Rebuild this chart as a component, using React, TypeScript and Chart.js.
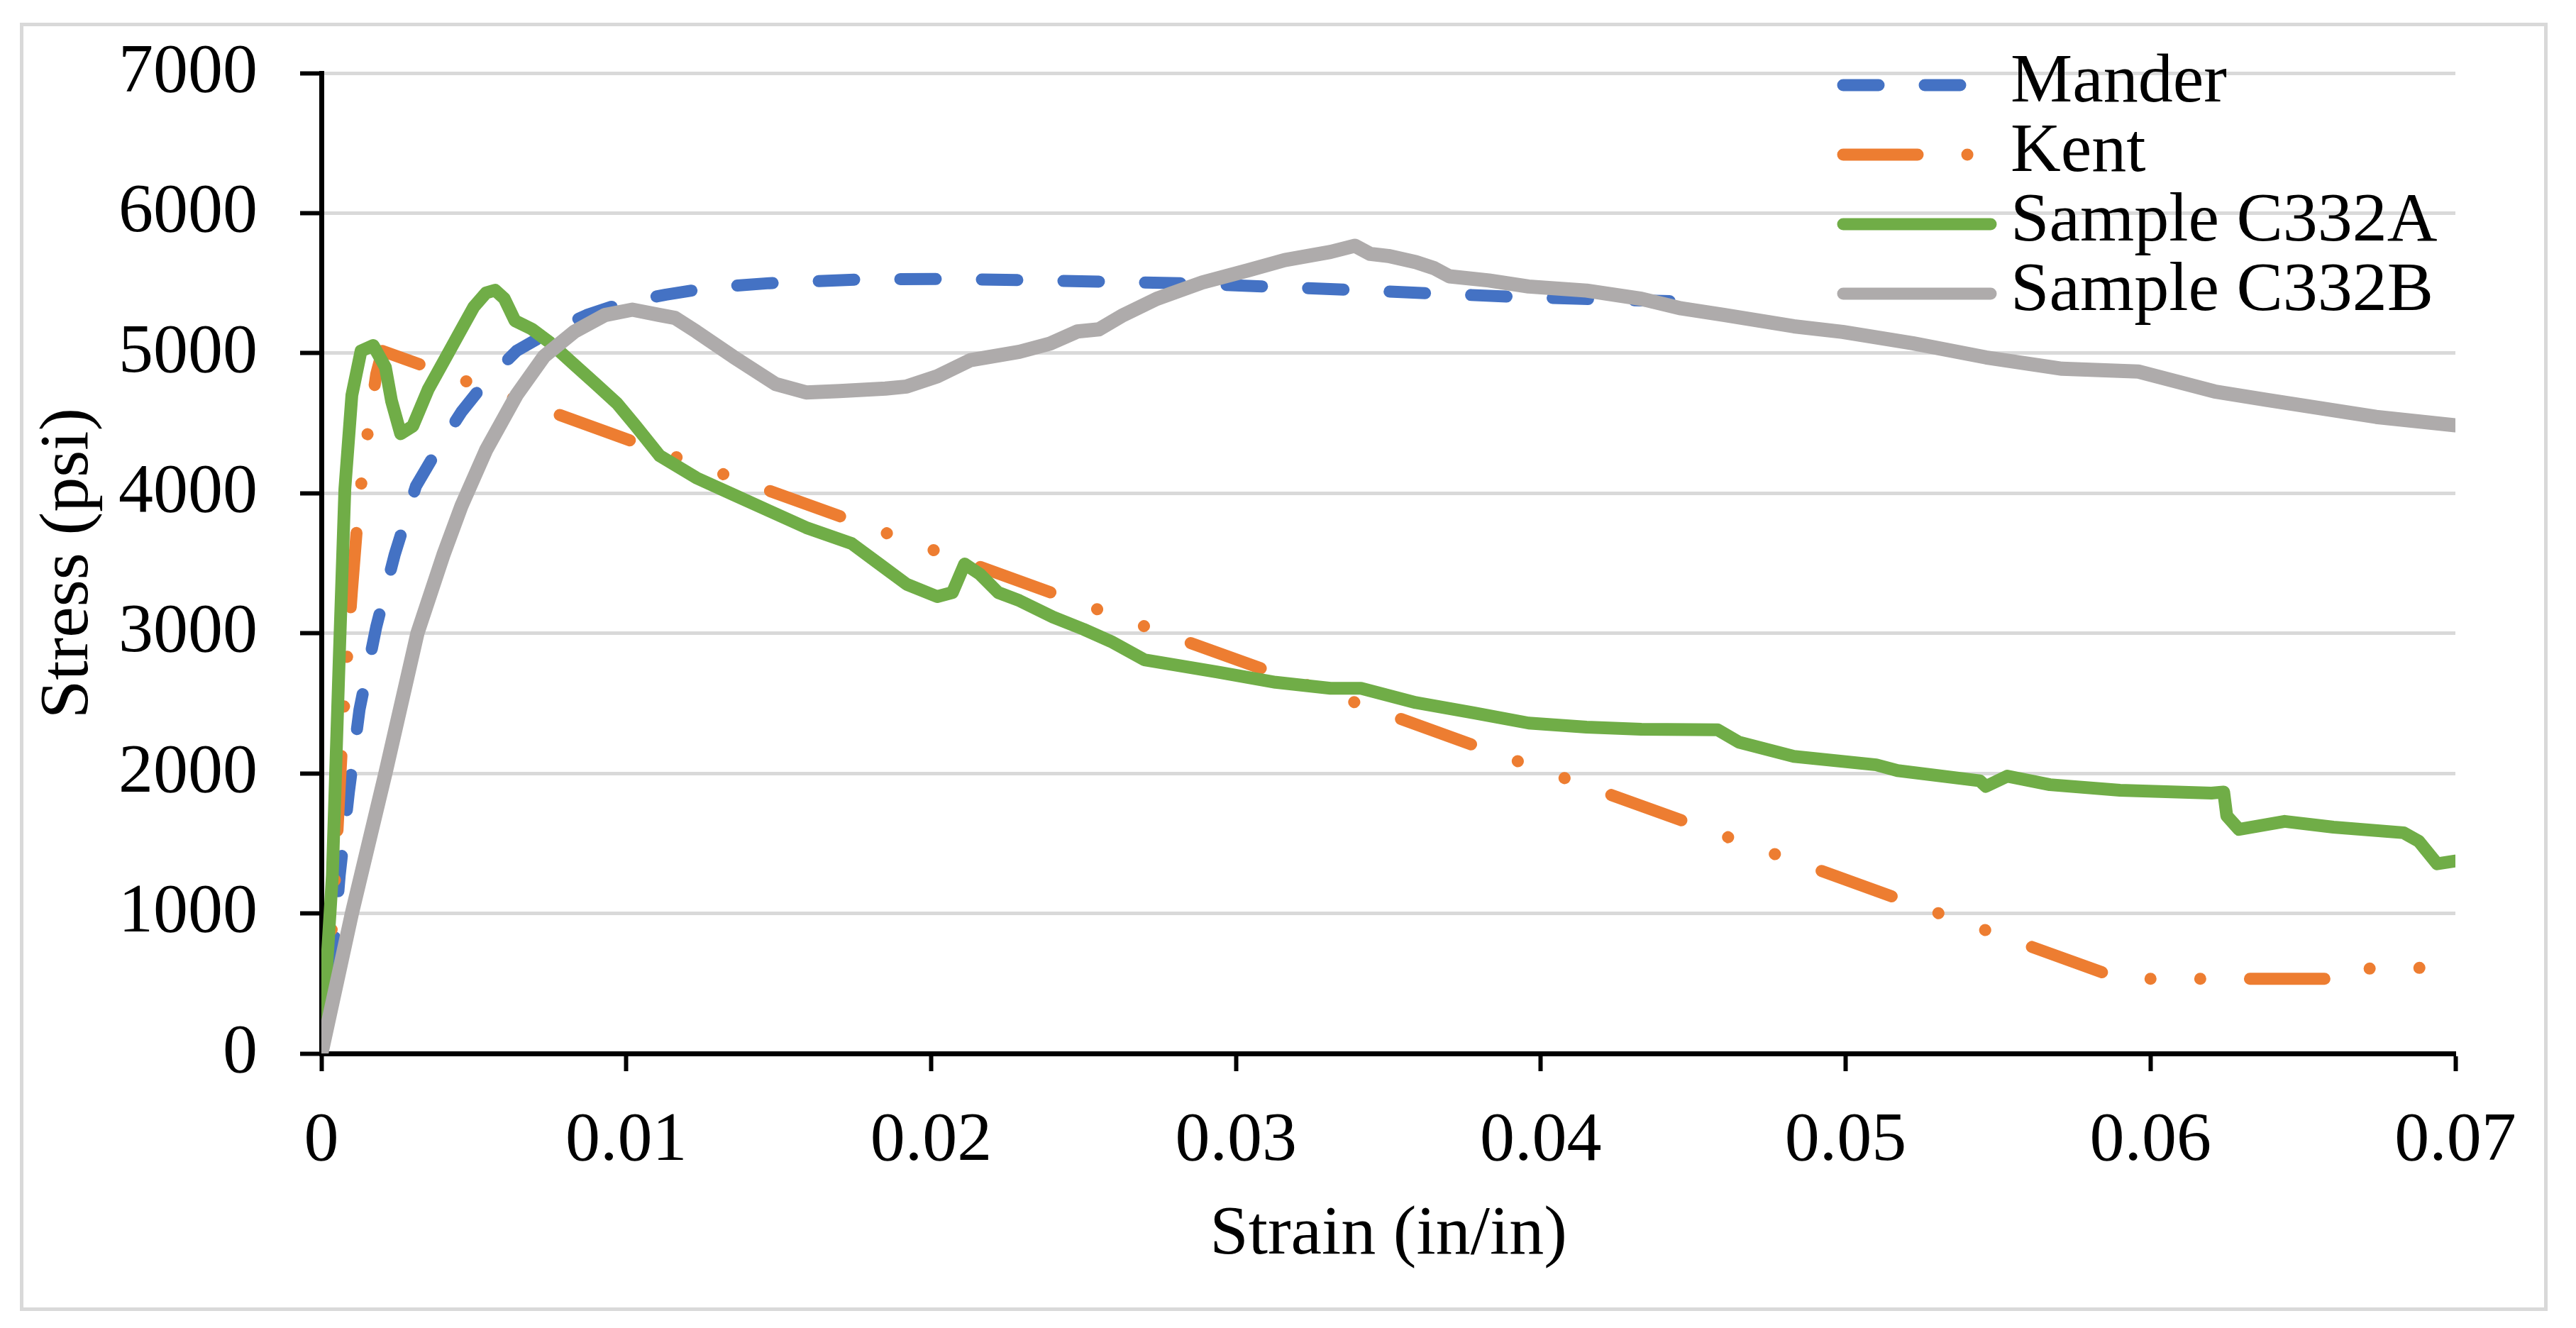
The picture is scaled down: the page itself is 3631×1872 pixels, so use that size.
import { useEffect, useRef } from 'react';
import { Chart, registerables } from 'chart.js';

Chart.register(...registerables);

// stress-strain values (strain in/in, stress psi)
const manderStrain = [0, 0.0003, 0.0006, 0.0009, 0.00125, 0.0018, 0.0024, 0.0031, 0.0039, 0.0046, 0.0054, 0.0064, 0.0075, 0.0087, 0.0099, 0.0113, 0.0128, 0.0147, 0.0178, 0.0202, 0.0229, 0.0255, 0.0282, 0.031, 0.0337, 0.0365, 0.0391, 0.0418, 0.0445, 0.0452];
const manderStress = [0, 485, 1272, 1864, 2455, 3046, 3558, 4050, 4346, 4582, 4800, 5016, 5154, 5272, 5359, 5418, 5469, 5500, 5528, 5530, 5522, 5511, 5499, 5476, 5452, 5426, 5403, 5385, 5370, 5365];

const kentStrain = [0, 0.0004, 0.0006, 0.0008, 0.001, 0.0012, 0.0014, 0.0016, 0.0018, 0.002, 0.059, 0.0665, 0.0668, 0.07];
const kentStress = [0, 1050, 1900, 2700, 3300, 3850, 4250, 4550, 4850, 5016, 533, 533, 605, 615];

const c332aStrain = [0, 0.00036, 0.00059, 0.00077, 0.001, 0.0013, 0.0017, 0.0021, 0.0023, 0.0026, 0.003, 0.0035, 0.0041, 0.0046, 0.005, 0.0054, 0.0057, 0.006, 0.00635, 0.0069, 0.0075, 0.0083, 0.009, 0.0097, 0.0103, 0.0111, 0.0123, 0.0135, 0.0147, 0.0159, 0.0174, 0.0183, 0.0192, 0.0202, 0.0207, 0.0211, 0.0216, 0.0222, 0.0229, 0.024, 0.025, 0.0259, 0.027, 0.0278, 0.0294, 0.0313, 0.0331, 0.0341, 0.0359, 0.0378, 0.0396, 0.0415, 0.0433, 0.0458, 0.0465, 0.0483, 0.051, 0.0517, 0.0544, 0.0546, 0.0553, 0.0567, 0.059, 0.062, 0.0624, 0.0625, 0.0629, 0.0644, 0.066, 0.0683, 0.0688, 0.0694, 0.07];
const c332aStress = [0, 1272, 2850, 4030, 4700, 5016, 5055, 4900, 4660, 4425, 4480, 4740, 4976, 5173, 5330, 5430, 5450, 5390, 5232, 5173, 5075, 4917, 4780, 4641, 4484, 4267, 4110, 3991, 3873, 3755, 3640, 3495, 3350, 3262, 3291, 3495, 3422, 3291, 3233, 3116, 3029, 2942, 2810, 2781, 2723, 2650, 2607, 2607, 2505, 2432, 2359, 2330, 2315, 2311, 2222, 2121, 2061, 2020, 1947, 1907, 1980, 1919, 1879, 1859, 1867, 1697, 1600, 1657, 1616, 1576, 1515, 1354, 1374];

const c332bStrain = [0, 0.001, 0.0021, 0.00315, 0.004, 0.0046, 0.0054, 0.0064, 0.0073, 0.0083, 0.0093, 0.0102, 0.0111, 0.0116, 0.0123, 0.0135, 0.0149, 0.0159, 0.017, 0.0185, 0.0192, 0.0202, 0.0213, 0.0229, 0.0239, 0.0248, 0.0255, 0.0263, 0.0274, 0.0289, 0.0304, 0.0316, 0.0331, 0.0339, 0.0344, 0.035, 0.0359, 0.0365, 0.037, 0.0383, 0.0396, 0.0415, 0.0433, 0.0446, 0.046, 0.0483, 0.0499, 0.0522, 0.0546, 0.0571, 0.0596, 0.0621, 0.0638, 0.0656, 0.0674, 0.07];
const c332bStress = [0, 1000, 2000, 3000, 3558, 3912, 4307, 4700, 4976, 5154, 5272, 5311, 5272, 5252, 5154, 4976, 4780, 4720, 4730, 4747, 4762, 4835, 4951, 5010, 5068, 5155, 5170, 5272, 5388, 5505, 5592, 5665, 5723, 5767, 5709, 5694, 5650, 5607, 5549, 5519, 5476, 5447, 5388, 5320, 5273, 5192, 5152, 5071, 4970, 4889, 4869, 4727, 4667, 4606, 4545, 4485];

const seriesNames = ['Mander', 'Kent', 'Sample C332A', 'Sample C332B'];
const xTickLabels = ['0', '0.01', '0.02', '0.03', '0.04', '0.05', '0.06', '0.07'];
const yTickLabels = ['0', '1000', '2000', '3000', '4000', '5000', '6000', '7000'];

const FONT = '"Liberation Serif", "Times New Roman", serif';
const font = { family: FONT, size: 98 };

const toPoints = (xs: number[], ys: number[]) => xs.map((x, i) => ({ x, y: ys[i] }));

// legend drawn inside the plot, top right, like the Excel original
const insideLegend = {
    id: 'insideLegend',
    afterDatasetsDraw(chart: any) {
        const { ctx, chartArea } = chart;
        const x0 = chartArea.right - 871;
        const textX = chartArea.right - 627;
        chart.data.datasets.forEach((ds: any, i: number) => {
            const y = chartArea.top + 17 + i * 98;
            ctx.save();
            ctx.strokeStyle = ds.borderColor;
            ctx.lineWidth = 17;
            ctx.lineCap = 'round';
            ctx.setLineDash(ds.borderDash || []);
            ctx.beginPath();
            ctx.moveTo(x0 + 8, y);
            ctx.lineTo(x0 + 216, y);
            ctx.stroke();
            ctx.setLineDash([]);
            ctx.fillStyle = '#000';
            ctx.font = `98px ${FONT}`;
            ctx.textBaseline = 'middle';
            ctx.textAlign = 'left';
            ctx.fillText(ds.label, textX, y - 3);
            ctx.restore();
        });
    },
};

const StressStrainChart = () => {
    const chartRef = useRef<HTMLCanvasElement | null>(null);

    useEffect(() => {
        const canvas = chartRef.current;
        if (!canvas) return;

        const line = {
            showLine: true,
            borderWidth: 17,
            pointRadius: 0,
            pointHoverRadius: 0,
            borderCapStyle: 'round',
            borderJoinStyle: 'round',
            tension: 0,
        };

        const myChart = new Chart(canvas, {
            type: 'scatter',
            data: {
                datasets: [
                    { ...line, label: seriesNames[0], data: toPoints(manderStrain, manderStress), borderColor: '#4472C4', backgroundColor: '#4472C4', borderDash: [50, 65], order: 4 },
                    { ...line, label: seriesNames[1], data: toPoints(kentStrain, kentStress), borderColor: '#ED7D31', backgroundColor: '#ED7D31', borderDash: [105, 70, 0.1, 70, 0.1, 70], order: 3 },
                    { ...line, label: seriesNames[2], data: toPoints(c332aStrain, c332aStress), borderColor: '#70AD47', backgroundColor: '#70AD47', borderWidth: 18, order: 2 },
                    // noisy test record reads thicker in the original
                    { ...line, label: seriesNames[3], data: toPoints(c332bStrain, c332bStress), borderColor: '#AEABAB', backgroundColor: '#AEABAB', borderWidth: 20, order: 1 },
                ],
            },
            options: {
                animation: false,
                responsive: false,
                layout: { padding: { left: 0, right: 125, top: 66, bottom: 0 } },
                plugins: {
                    legend: { display: false },
                    tooltip: { enabled: false },
                },
                scales: {
                    x: {
                        type: 'linear',
                        min: 0,
                        max: 0.07,
                        ticks: {
                            stepSize: 0.01,
                            callback: (_v: any, i: number) => xTickLabels[i],
                            font,
                            color: '#000',
                            padding: 40,
                            maxRotation: 0,
                        },
                        grid: { drawOnChartArea: false, tickLength: 25, tickColor: '#000', tickWidth: 6 },
                        border: { color: '#000', width: 7 },
                        title: { display: true, text: 'Strain (in/in)', font, color: '#000', padding: { top: 0, bottom: 43 } },
                        afterFit: (s: any) => {
                            s.height = 358;
                            s.paddingLeft = 0;
                            s.paddingRight = 0;
                        },
                    },
                    y: {
                        type: 'linear',
                        min: 0,
                        max: 7000,
                        ticks: {
                            stepSize: 1000,
                            callback: (_v: any, i: number) => yTickLabels[i],
                            font,
                            color: '#000',
                            padding: 60,
                        },
                        grid: {
                            color: (c: any) => (c.tick && c.tick.value === 0 ? 'rgba(0,0,0,0)' : '#D9D9D9'),
                            lineWidth: 5,
                            tickLength: 30,
                            tickColor: '#000',
                            tickWidth: 6,
                        },
                        border: { color: '#000', width: 7 },
                        title: { display: true, text: 'Stress (psi)', font, color: '#000', padding: { top: 5, bottom: 0 } },
                        afterFit: (s: any) => {
                            s.width = 420;
                            s.paddingTop = 0;
                            s.paddingBottom = 0;
                        },
                    },
                },
            },
            plugins: [insideLegend],
        } as any);

        return () => {
            myChart.destroy();
        };
    }, []);

    return (
        <div
            style={{
                position: 'absolute',
                left: 28,
                top: 32,
                width: 3563,
                height: 1816,
                boxSizing: 'border-box',
                border: '5px solid #D9D9D9',
                background: '#fff',
            }}
        >
            <canvas ref={chartRef} width={3553} height={1806} style={{ display: 'block', width: 3553, height: 1806 }} />
        </div>
    );
};

export default function App() {
    return <StressStrainChart />;
}
